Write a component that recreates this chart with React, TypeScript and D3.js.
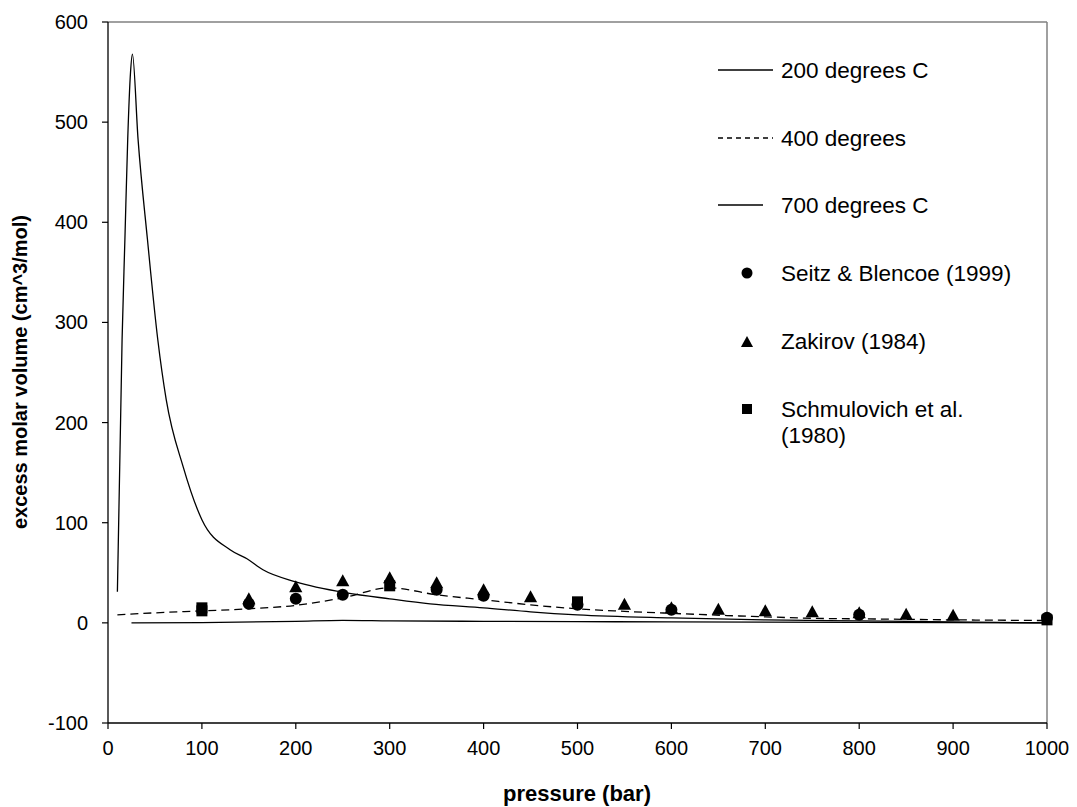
import React from "react";
import * as d3 from "d3";

// ---- data ----
const curve200: [number, number][] = [
  [10, 31], [15, 283], [18, 383], [21, 483], [24, 550], [26, 568],
  [32, 483], [42, 383], [53, 283], [62, 223], [80, 156], [100, 103],
  [130, 73], [148, 64], [165, 53], [200, 41], [254, 30], [300, 24], [343, 19],
  [400, 15], [450, 11], [500, 8], [600, 5], [700, 3], [800, 2], [900, 1], [1000, 0],
];
const curve400: [number, number][] = [
  [10, 8], [50, 10], [100, 12], [150, 14], [200, 17.5], [250, 25], [300, 35],
  [350, 28], [400, 23], [450, 18], [500, 14], [550, 11.5], [600, 9.5], [700, 6],
  [765, 4.3], [800, 4], [900, 3], [1000, 2.3],
];
const curve700: [number, number][] = [
  [25, 0], [100, 0.3], [200, 1.5], [250, 2.5], [300, 2], [400, 1.5], [500, 1.2],
  [600, 1], [800, 0.5], [1000, 0],
];
const seitz: [number, number][] = [
  [150, 19], [200, 24], [250, 28], [350, 33], [400, 27], [500, 18], [600, 13],
  [800, 8], [1000, 5],
];
const zakirov: [number, number][] = [
  [150, 24], [200, 36], [250, 42], [300, 45], [350, 40], [400, 33], [450, 26],
  [550, 18.5], [600, 15], [650, 13.5], [700, 12], [750, 11], [800, 10], [850, 8.5],
  [900, 7.5],
];
const schmulovich: [number, number][] = [
  [100, 15], [100, 12], [300, 37], [500, 21], [1000, 3],
];
const xTicks = [0, 100, 200, 300, 400, 500, 600, 700, 800, 900, 1000];
const yTicks = [-100, 0, 100, 200, 300, 400, 500, 600];

const lineLabels = ["200 degrees C", "400 degrees", "700 degrees C"];
const markerLabels = ["Seitz & Blencoe (1999)", "Zakirov (1984)", "Schmulovich et al."];

const W = 1077;
const H = 807;
const L = 108, R = 1047, T = 22, B = 723;
const FONT = "Liberation Sans, Arial, sans-serif";

export default function App() {
  const x = d3.scaleLinear().domain([0, 1000]).range([L, R]);
  const y = d3.scaleLinear().domain([-100, 600]).range([B, T]);
  const line = d3
    .line<[number, number]>()
    .x((d) => x(d[0]))
    .y((d) => y(d[1]))
    .curve(d3.curveMonotoneX);

  const tri = (cx: number, cy: number, s: number) =>
    `M${cx},${cy - s * 0.55}L${cx + s * 0.55},${cy + s * 0.45}L${cx - s * 0.55},${cy + s * 0.45}Z`;

  return (
    <svg
      width={W}
      height={H}
      style={{ position: "absolute", left: 0, top: 0, background: "#fff" }}
      fontFamily={FONT}
    >
      <rect x={0} y={0} width={W} height={H} fill="#fff" />
      {/* plot frame */}
      <line x1={L} x2={R} y1={T} y2={T} stroke="#808080" strokeWidth={1.5} />
      <line x1={R} x2={R} y1={T} y2={B} stroke="#808080" strokeWidth={1.5} />
      {/* axes */}
      <line x1={L} x2={L} y1={T} y2={B} stroke="#000" strokeWidth={1.3} />
      <line x1={L} x2={R} y1={B} y2={B} stroke="#000" strokeWidth={1.3} />
      {yTicks.map((t) => (
        <g key={"y" + t}>
          <line x1={L - 6} x2={L} y1={y(t)} y2={y(t)} stroke="#000" strokeWidth={1.2} />
          <text x={88} y={y(t) + 7} textAnchor="end" fontSize={20}>
            {t}
          </text>
        </g>
      ))}
      {xTicks.map((t) => (
        <g key={"x" + t}>
          <line x1={x(t)} x2={x(t)} y1={B} y2={B + 6} stroke="#000" strokeWidth={1.2} />
          <text x={x(t)} y={755} textAnchor="middle" fontSize={20}>
            {t}
          </text>
        </g>
      ))}
      <text x={577} y={801} textAnchor="middle" fontSize={22} fontWeight="bold">
        pressure (bar)
      </text>
      <text
        transform={`translate(27,372) rotate(-90)`}
        textAnchor="middle"
        fontSize={20}
        fontWeight="bold"
      >
        excess molar volume (cm^3/mol)
      </text>

      {/* curves */}
      <path d={line(curve700) || ""} fill="none" stroke="#000" strokeWidth={1.3} />
      <path d={line(curve400) || ""} fill="none" stroke="#000" strokeWidth={1.3} strokeDasharray="8,5" />
      <path d={line(curve200) || ""} fill="none" stroke="#000" strokeWidth={1.3} />

      {/* markers */}
      {seitz.map((d, i) => (
        <circle key={"s" + i} cx={x(d[0])} cy={y(d[1])} r={6} fill="#000" />
      ))}
      {zakirov.map((d, i) => (
        <path key={"z" + i} d={tri(x(d[0]), y(d[1]), 12)} fill="#000" />
      ))}
      {schmulovich.map((d, i) => (
        <rect key={"q" + i} x={x(d[0]) - 5.5} y={y(d[1]) - 5.5} width={11} height={11} fill="#000" />
      ))}

      {/* legend */}
      <line x1={718} x2={773} y1={70} y2={70} stroke="#000" strokeWidth={1.3} />
      <line x1={718} x2={773} y1={138} y2={138} stroke="#000" strokeWidth={1.3} strokeDasharray="5,4" />
      <line x1={718} x2={763} y1={205} y2={205} stroke="#000" strokeWidth={1.3} />
      {lineLabels.map((s, i) => (
        <text key={s} x={781} y={[70, 138, 205][i] + 8} fontSize={22.5}>
          {s}
        </text>
      ))}
      <circle cx={747} cy={273} r={5.5} fill="#000" />
      <path d={tri(747, 342, 11)} fill="#000" />
      <rect x={742} y={404} width={10} height={10} fill="#000" />
      {markerLabels.map((s, i) => (
        <text key={s} x={781} y={[273, 341, 409][i] + 8} fontSize={22.5}>
          {s}
        </text>
      ))}
      <text x={781} y={443} fontSize={22.5}>
        (1980)
      </text>
    </svg>
  );
}
